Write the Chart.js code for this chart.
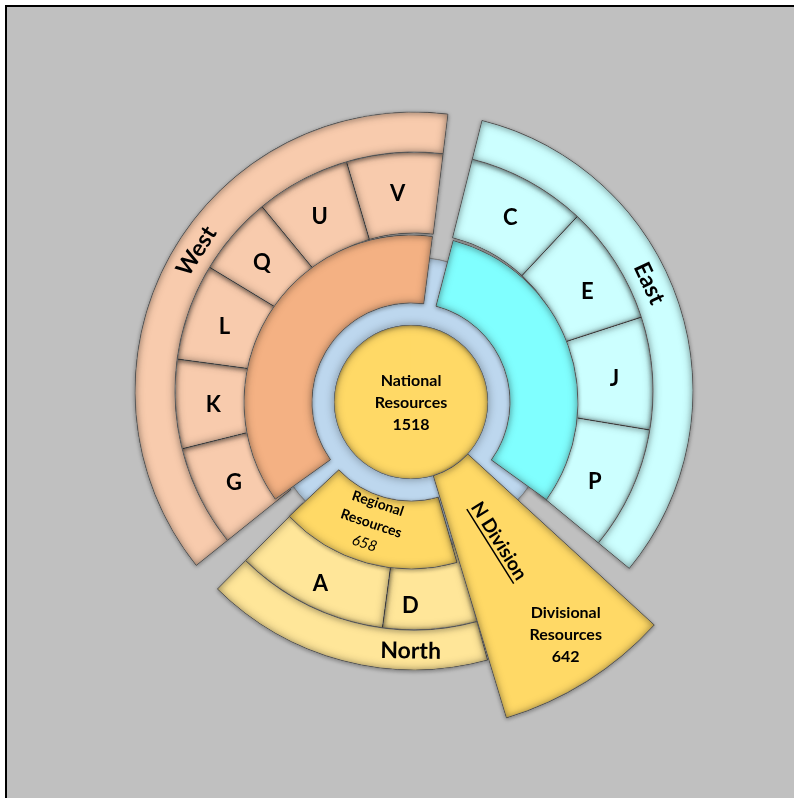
<!DOCTYPE html>
<html lang="en">
<head>
<meta charset="utf-8">
<title>Resources</title>
<script src="https://cdn.jsdelivr.net/npm/chart.js@4.4.1/dist/chart.umd.min.js"></script>
<style>
  html, body { margin: 0; padding: 0; background: #ffffff; }
  #frame { position: relative; width: 794px; height: 798px; overflow: hidden; }
  #panel { position: absolute; left: 5px; top: 5px; right: -4px; bottom: -4px;
           background: #c0c0c0; border-left: 2px solid #000; border-top: 2px solid #000; }
  canvas { position: absolute; }
</style>
</head>
<body>
<div id="frame">
  <div id="panel"></div>
  <canvas id="outer" width="794" height="798" style="left:17px;top:-8px"></canvas>
  <canvas id="core" width="794" height="798" style="left:14px;top:3px"></canvas>
  <canvas id="inner" width="794" height="798" style="left:14px;top:3px"></canvas>
  <canvas id="division" width="794" height="798" style="left:14px;top:3px"></canvas>
</div>
<script>
// Datos (tamaño de cada porcion en grados)
const regions = ['East', 'North', 'West'];
const regionSpan = [115.4, 60.1, 135.7];
const regionGap = [35.2, 6.5, 7.1];          // hueco despues de cada region
const outerStart = 14.1;

const eastCells = ['C', 'E', 'J', 'P'];
const eastCellSpan = [29.0, 28.9, 27.4, 30.1];
const northCells = ['D', 'A'];
const northCellSpan = [22.9, 37.2];
const westCells = ['G', 'K', 'L', 'Q', 'U', 'V'];
const westCellSpan = [24.7, 21.7, 23.5, 19.3, 23.1, 23.4];

const innerParts = ['East', 'Regional', 'West'];
const innerSpan = [111.2, 62.8, 133.0];
const innerGap = [38.2, 7.6, 7.2];
const innerStart = 14.6;

const divisionSpan = [30.7, 329.3];
const divisionStart = 132.5;

const nationalTotal = 1518;
const regionalTotal = 658;
const divisionalTotal = 642;

// Colores
const CLEAR = 'rgba(0,0,0,0)';
const lightFill = { East: '#ccffff', North: '#ffe699', West: '#f8cbad' };
const innerFill = { East: '#80ffff', Regional: '#ffd966', West: '#f4b183' };
const EDGE = '#7f7f7f';
const FONT = 'Lato, "Open Sans", sans-serif';

// Armando los anillos
const regionCells = [eastCells, northCells, westCells];
const regionCellSpan = [eastCellSpan, northCellSpan, westCellSpan];
const ringValues = [], ringColors = [], ringNames = [];
const cellValues = [], cellColors = [], cellNames = [];
regions.forEach((reg, i) => {
    ringValues.push(regionSpan[i], regionGap[i]);
    ringColors.push(lightFill[reg], CLEAR);
    ringNames.push(reg, '');
    regionCells[i].forEach((c, j) => {
        cellValues.push(regionCellSpan[i][j]);
        cellColors.push(lightFill[reg]);
        cellNames.push(c);
    });
    cellValues.push(regionGap[i]);
    cellColors.push(CLEAR);
    cellNames.push('');
});

const innerValues = [], innerColors = [], innerNames = [];
innerParts.forEach((p, i) => {
    innerValues.push(innerSpan[i], innerGap[i]);
    innerColors.push(innerFill[p], CLEAR);
    innerNames.push(p, '');
});

const borders = colors => colors.map(c => c === CLEAR ? 0 : 1);
const isFull = p => p.endAngle - p.startAngle >= Math.PI * 2 - 1e-4;

// Trazo de una porcion (para el sombreado interior)
const arcPath = (ctx, p) => {
    const full = isFull(p);
    ctx.moveTo(p.x + p.outerRadius * Math.cos(p.startAngle), p.y + p.outerRadius * Math.sin(p.startAngle));
    ctx.arc(p.x, p.y, p.outerRadius, p.startAngle, p.endAngle);
    if (p.innerRadius > 0) {
        if (full) {
            ctx.closePath();
            ctx.moveTo(p.x + p.innerRadius * Math.cos(p.endAngle), p.y + p.innerRadius * Math.sin(p.endAngle));
        } else {
            ctx.lineTo(p.x + p.innerRadius * Math.cos(p.endAngle), p.y + p.innerRadius * Math.sin(p.endAngle));
        }
        ctx.arc(p.x, p.y, p.innerRadius, p.endAngle, p.startAngle, true);
    } else if (!full) {
        ctx.lineTo(p.x, p.y);
    }
    ctx.closePath();
};

// Efecto bisel: sombra suave afuera y sombra interior en cada porcion
const bevel = {
    id: 'bevel',
    beforeDatasetDraw(chart) {
        const ctx = chart.ctx;
        ctx.save();
        ctx.shadowColor = 'rgba(0,0,0,0.35)';
        ctx.shadowBlur = 4;
        ctx.shadowOffsetY = 1;
    },
    afterDatasetDraw(chart, args) {
        const ctx = chart.ctx;
        ctx.restore();
        const ds = chart.data.datasets[args.index];
        args.meta.data.forEach((arc, i) => {
            if (ds.backgroundColor[i] === CLEAR) return;
            const p = arc.getProps(['x', 'y', 'startAngle', 'endAngle', 'innerRadius', 'outerRadius']);
            ctx.save();
            ctx.beginPath();
            arcPath(ctx, p);
            ctx.clip();
            ctx.beginPath();
            ctx.rect(p.x - 1500, p.y - 1500, 3000, 3000);
            arcPath(ctx, p);
            ctx.shadowColor = 'rgba(0,0,0,0.38)';
            ctx.shadowBlur = 10;
            ctx.fillStyle = '#000';
            ctx.fill('evenodd');
            ctx.restore();
            // contorno de los circulos completos (sin la linea de union)
            if (isFull(p)) {
                ctx.save();
                ctx.strokeStyle = EDGE;
                ctx.lineWidth = 1;
                ctx.beginPath();
                ctx.arc(p.x, p.y, p.outerRadius, 0, Math.PI * 2);
                ctx.stroke();
                ctx.restore();
            }
        });
    }
};

const textLines = (ctx, lines, x, y, rot, lh) => {
    ctx.save();
    ctx.translate(x, y);
    ctx.rotate(rot);
    const top = -(lines.length - 1) * lh / 2;
    lines.forEach((l, k) => {
        ctx.font = l.font;
        ctx.fillText(l.text, 0, top + k * lh);
    });
    ctx.restore();
};

const deg = Math.PI / 180;
// angulo desde arriba (sentido horario) del centro de una porcion
const midTheta = arc => (arc.startAngle + arc.endAngle) / 2 + Math.PI / 2;
const at = (arc, theta, r) => [arc.x + r * Math.sin(theta), arc.y - r * Math.cos(theta)];

const baseOptions = (rotation, cutout, radius) => ({
    responsive: false,
    animation: false,
    events: [],
    rotation: rotation,
    cutout: cutout,
    radius: radius,
    layout: { padding: 0 },
    plugins: { legend: { display: false }, tooltip: { enabled: false } }
});

// Etiquetas de los anillos exteriores
const letterNudge = { D: 4.8, E: 2, P: 1.5 };
const outerLabels = {
    id: 'outerLabels',
    afterDatasetsDraw(chart) {
        const ctx = chart.ctx;
        ctx.save();
        ctx.fillStyle = '#000';
        ctx.textAlign = 'center';
        ctx.textBaseline = 'middle';
        ctx.font = 'bold 22px ' + FONT;
        chart.getDatasetMeta(1).data.forEach((arc, i) => {
            const name = cellNames[i];
            if (!name) return;
            const r = northCells.includes(name) ? 212 : 201;
            const [x, y] = at(arc, midTheta(arc) + (letterNudge[name] || 0) * deg, r);
            ctx.fillText(name, x, y + 3);
        });
        const nudge = { East: -6.6, North: -14, West: 3.8 };
        chart.getDatasetMeta(0).data.forEach((arc, i) => {
            const name = ringNames[i];
            if (!name) return;
            const theta = midTheta(arc) + nudge[name] * deg;
            const [x, y] = at(arc, theta, 259);
            const rot = name === 'North' ? theta - Math.PI : theta;
            textLines(ctx, [{ text: name, font: 'bold 23px ' + FONT }], x, y + 1, rot, 0);
        });
        ctx.restore();
    }
};

new Chart(document.getElementById('outer'), {
    type: 'doughnut',
    data: {
        datasets: [
            { data: ringValues, backgroundColor: ringColors, borderColor: EDGE, borderWidth: borders(ringColors), weight: 40 },
            { data: cellValues, backgroundColor: cellColors, borderColor: EDGE, borderWidth: borders(cellColors), weight: 81 }
        ]
    },
    options: baseOptions(outerStart, (158 / 279 * 100) + '%', 279),
    plugins: [bevel, outerLabels]
});

// Anillo azul y circulo nacional
new Chart(document.getElementById('core'), {
    type: 'doughnut',
    data: {
        datasets: [
            { data: [nationalTotal], backgroundColor: ['#bdd7ee'], borderWidth: 0, weight: 68 },
            { data: [nationalTotal], backgroundColor: ['#ffd966'], borderWidth: 0, weight: 77 }
        ]
    },
    options: baseOptions(0, '0%', 145),
    plugins: [bevel, {
        id: 'nationalLabel',
        afterDatasetsDraw(chart) {
            const ctx = chart.ctx;
            const arc = chart.getDatasetMeta(1).data[0];
            ctx.save();
            ctx.fillStyle = '#000';
            ctx.textAlign = 'center';
            ctx.textBaseline = 'middle';
            const f = 'bold 16px ' + FONT;
            textLines(ctx, [{ text: 'National', font: f }, { text: 'Resources', font: f }, { text: String(nationalTotal), font: f }],
                arc.x, arc.y + 1, 0, 22);
            ctx.restore();
        }
    }]
});

// Anillo interior (regiones)
new Chart(document.getElementById('inner'), {
    type: 'doughnut',
    data: {
        datasets: [
            { data: innerValues, backgroundColor: innerColors, borderColor: EDGE, borderWidth: borders(innerColors) }
        ]
    },
    options: baseOptions(innerStart, (99 / 167 * 100) + '%', 167),
    plugins: [bevel, {
        id: 'regionalLabel',
        afterDatasetsDraw(chart) {
            const ctx = chart.ctx;
            const arc = chart.getDatasetMeta(0).data[innerNames.indexOf('Regional')];
            const theta = midTheta(arc) + 3 * deg;
            const [x, y] = at(arc, theta, 126);
            ctx.save();
            ctx.fillStyle = '#000';
            ctx.textAlign = 'center';
            ctx.textBaseline = 'middle';
            const f = 'bold 14px ' + FONT;
            textLines(ctx, [{ text: 'Regional', font: f }, { text: 'Resources', font: f },
                { text: String(regionalTotal), font: 'italic 15px ' + FONT }], x, y + 2, theta - Math.PI, 21);
            ctx.restore();
        }
    }]
});

// Porcion de la division N
new Chart(document.getElementById('division'), {
    type: 'doughnut',
    data: {
        datasets: [
            { data: divisionSpan, backgroundColor: ['#ffd966', CLEAR], borderColor: EDGE, borderWidth: [1, 0] }
        ]
    },
    options: baseOptions(divisionStart, (77 / 330 * 100) + '%', 330),
    plugins: [bevel, {
        id: 'divisionLabel',
        afterDatasetsDraw(chart) {
            const ctx = chart.ctx;
            const arc = chart.getDatasetMeta(0).data[0];
            const theta = midTheta(arc);
            ctx.save();
            ctx.fillStyle = '#000';
            ctx.strokeStyle = '#000';
            ctx.textAlign = 'center';
            ctx.textBaseline = 'middle';
            // N Division (radial, subrayado)
            const [nx, ny] = at(arc, theta, 163);
            ctx.save();
            ctx.translate(nx + 1, ny + 1);
            ctx.rotate(theta - Math.PI / 2);
            ctx.font = 'bold 19px ' + FONT;
            ctx.fillText('N Division', 0, 0);
            const w = ctx.measureText('N Division').width;
            ctx.lineWidth = 1.5;
            ctx.beginPath();
            ctx.moveTo(-w / 2, 10);
            ctx.lineTo(w / 2, 10);
            ctx.stroke();
            ctx.restore();
            const [dx, dy] = at(arc, theta - 1.8 * deg, 277);
            const f = 'bold 16px ' + FONT;
            textLines(ctx, [{ text: 'Divisional', font: f }, { text: 'Resources', font: f }, { text: String(divisionalTotal), font: f }],
                dx, dy + 3, 0, 22);
            ctx.restore();
        }
    }]
});
</script>
</body>
</html>
